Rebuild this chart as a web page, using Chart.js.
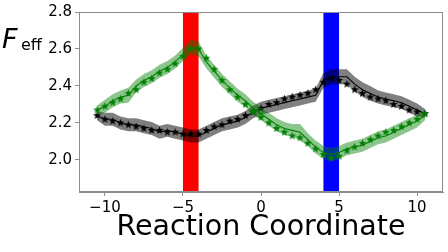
<!DOCTYPE html>
<html><head><meta charset="utf-8">
<script src="https://cdn.jsdelivr.net/npm/chart.js@4/dist/chart.umd.min.js"></script>
<style>html,body{margin:0;padding:0;background:#fff}#wrap{width:448px;height:252px}</style>
</head><body><div id="wrap"><canvas id="c" width="448" height="252"></canvas></div>
<script>
const xs = [-10.5,-10,-9.5,-9,-8.5,-8,-7.5,-7,-6.5,-6,-5.5,-5,-4.5,-4,-3.5,-3,-2.5,-2,-1.5,-1,-0.5,0,0.5,1,1.5,2,2.5,3,3.5,4,4.5,5,5.5,6,6.5,7,7.5,8,8.5,9,9.5,10,10.5];
const greenMean = [2.27,2.29,2.32,2.34,2.35,2.40,2.43,2.45,2.48,2.50,2.53,2.57,2.61,2.60,2.53,2.48,2.43,2.39,2.35,2.32,2.28,2.25,2.22,2.19,2.17,2.16,2.15,2.11,2.07,2.04,2.03,2.04,2.06,2.07,2.08,2.10,2.12,2.13,2.15,2.17,2.19,2.21,2.24];
const greenErr  = [0.025,0.035,0.035,0.035,0.04,0.035,0.035,0.035,0.035,0.035,0.035,0.035,0.04,0.04,0.035,0.035,0.035,0.035,0.035,0.035,0.035,0.035,0.035,0.035,0.035,0.035,0.045,0.035,0.035,0.035,0.035,0.035,0.035,0.035,0.035,0.035,0.035,0.035,0.035,0.035,0.035,0.035,0.025];
const greenStars = [2.27,2.29,2.31,2.33,2.36,2.38,2.42,2.44,2.47,2.49,2.52,2.56,2.60,2.60,2.55,2.49,2.43,2.38,2.34,2.30,2.26,2.23,2.20,2.17,2.15,2.13,2.12,2.09,2.06,2.03,2.01,2.02,2.05,2.07,2.09,2.11,2.13,2.15,2.16,2.18,2.20,2.22,2.25];
const blackMean = [2.24,2.22,2.22,2.20,2.19,2.19,2.18,2.17,2.15,2.16,2.15,2.14,2.13,2.13,2.15,2.17,2.19,2.20,2.21,2.23,2.26,2.28,2.29,2.30,2.31,2.32,2.33,2.34,2.35,2.43,2.45,2.45,2.45,2.41,2.38,2.36,2.34,2.33,2.32,2.31,2.29,2.27,2.25];
const blackErr  = [0.025,0.035,0.035,0.035,0.035,0.035,0.035,0.035,0.035,0.035,0.035,0.035,0.035,0.035,0.035,0.035,0.035,0.035,0.035,0.035,0.035,0.035,0.035,0.035,0.035,0.035,0.035,0.035,0.035,0.04,0.04,0.04,0.04,0.04,0.04,0.04,0.035,0.035,0.035,0.035,0.035,0.035,0.025];
const blackStars = [2.24,2.22,2.21,2.20,2.19,2.18,2.17,2.16,2.16,2.15,2.15,2.14,2.14,2.14,2.16,2.18,2.19,2.21,2.22,2.24,2.26,2.28,2.30,2.31,2.33,2.34,2.35,2.36,2.38,2.42,2.44,2.43,2.41,2.38,2.36,2.34,2.33,2.32,2.30,2.29,2.27,2.26,2.25];
const bands = [{from:-5, to:-4, color:'#ff0000'}, {from:4, to:5, color:'#0000ff'}];
const xTicks = [-10,-5,0,5,10];
const yTicks = [2.0,2.2,2.4,2.6,2.8];
const xRange = [-11.66, 11.66];
const yRange = [1.827, 2.8];

function pts(xv, yv){ return xv.map((x,i)=>({x:x, y:yv[i]})); }
function band(xv, m, e, sign){ return xv.map((x,i)=>({x:x, y:m[i]+sign*e[i]})); }

function makeStar(color, r){
  const c = document.createElement('canvas');
  const s = Math.ceil(r*2)+2; c.width = s; c.height = s;
  const g = c.getContext('2d');
  g.beginPath();
  for (let i=0;i<10;i++){
    const a = -Math.PI/2 + i*Math.PI/5;
    const rr = (i%2===0)? r : r*0.42;
    const px = s/2 + rr*Math.cos(a), py = s/2 + rr*Math.sin(a);
    if(i===0) g.moveTo(px,py); else g.lineTo(px,py);
  }
  g.closePath(); g.fillStyle = color; g.fill();
  return c;
}
const gStarImg = makeStar('#008000', 4.2);
const kStarImg = makeStar('#000000', 4.2);

const bandPlugin = {
  id:'bands',
  beforeDatasetsDraw(chart){
    const {ctx, chartArea:a, scales:{x}} = chart;
    ctx.save();
    bands.forEach(b=>{
      const x0 = x.getPixelForValue(b.from), x1 = x.getPixelForValue(b.to);
      ctx.fillStyle = b.color;
      ctx.fillRect(x0, a.top, x1-x0, a.bottom-a.top);
    });
    ctx.restore();
  },
  afterDraw(chart){
    const {ctx, chartArea:a} = chart;
    ctx.save();
    ctx.strokeStyle = '#8c8c8c'; ctx.lineWidth = 1;
    ctx.strokeRect(Math.round(a.left)+0.5, Math.round(a.top)+0.5, Math.round(a.right-a.left)-1, Math.round(a.bottom-a.top)-1);
    ctx.fillStyle = '#000';
    ctx.textBaseline = 'alphabetic'; ctx.textAlign = 'left';
    ctx.font = 'italic 27px "DejaVu Sans"';
    ctx.fillText('F', 2, 48);
    ctx.font = '16px "DejaVu Sans"';
    ctx.fillText('eff', 21, 50);
    ctx.restore();
  }
};

const lineCommon = {showLine:true, tension:0, pointRadius:0, pointHoverRadius:0};
new Chart(document.getElementById('c'), {
  type:'scatter',
  data:{ datasets:[
    {...lineCommon, data:band(xs,greenMean,greenErr,1), borderWidth:0, borderColor:'rgba(0,0,0,0)', fill:false},
    {...lineCommon, data:band(xs,greenMean,greenErr,-1), borderWidth:0, borderColor:'rgba(0,0,0,0)', fill:'-1', backgroundColor:'rgba(0,128,0,0.45)'},
    {...lineCommon, data:pts(xs,greenMean), borderColor:'#008000', borderWidth:1.1},
    {data:pts(xs,greenStars), showLine:false, pointStyle:gStarImg, pointRadius:4},
    {...lineCommon, data:band(xs,blackMean,blackErr,1), borderWidth:0, borderColor:'rgba(0,0,0,0)', fill:false},
    {...lineCommon, data:band(xs,blackMean,blackErr,-1), borderWidth:0, borderColor:'rgba(0,0,0,0)', fill:'-1', backgroundColor:'rgba(0,0,0,0.5)'},
    {...lineCommon, data:pts(xs,blackMean), borderColor:'#000000', borderWidth:1.1},
    {data:pts(xs,blackStars), showLine:false, pointStyle:kStarImg, pointRadius:4}
  ]},
  plugins:[bandPlugin],
  options:{
    responsive:false, animation:false, devicePixelRatio:1,
    layout:{padding:{left:0,right:2,top:12,bottom:0}},
    plugins:{legend:{display:false}, tooltip:{enabled:false}},
    scales:{
      x:{type:'linear', min:xRange[0], max:xRange[1],
        afterBuildTicks(s){ s.ticks = xTicks.map(v=>({value:v})); },
        afterFit(s){ s.height = 60; },
        grid:{display:true, drawOnChartArea:false, drawTicks:true, tickLength:4, color:'#8c8c8c'},
        border:{display:true, color:'#8c8c8c'},
        ticks:{color:'#000', padding:3, maxRotation:0, font:{family:'DejaVu Sans', size:15},
          callback:v=> v<0 ? '\u2212'+Math.abs(v) : String(v)},
        title:{display:true, text:'Reaction Coordinate', color:'#000', font:{family:'DejaVu Sans', size:28.5}, padding:{top:0,bottom:7}}
      },
      y:{type:'linear', min:yRange[0], max:yRange[1],
        afterBuildTicks(s){ s.ticks = yTicks.map(v=>({value:v})); },
        afterFit(s){ s.width = 79; },
        grid:{display:true, drawOnChartArea:false, drawTicks:true, tickLength:4, color:'#8c8c8c'},
        border:{display:true, color:'#8c8c8c'},
        ticks:{color:'#000', padding:3, font:{family:'DejaVu Sans', size:15}, callback:v=>v.toFixed(1)}
      }
    }
  }
});
</script></body></html>
